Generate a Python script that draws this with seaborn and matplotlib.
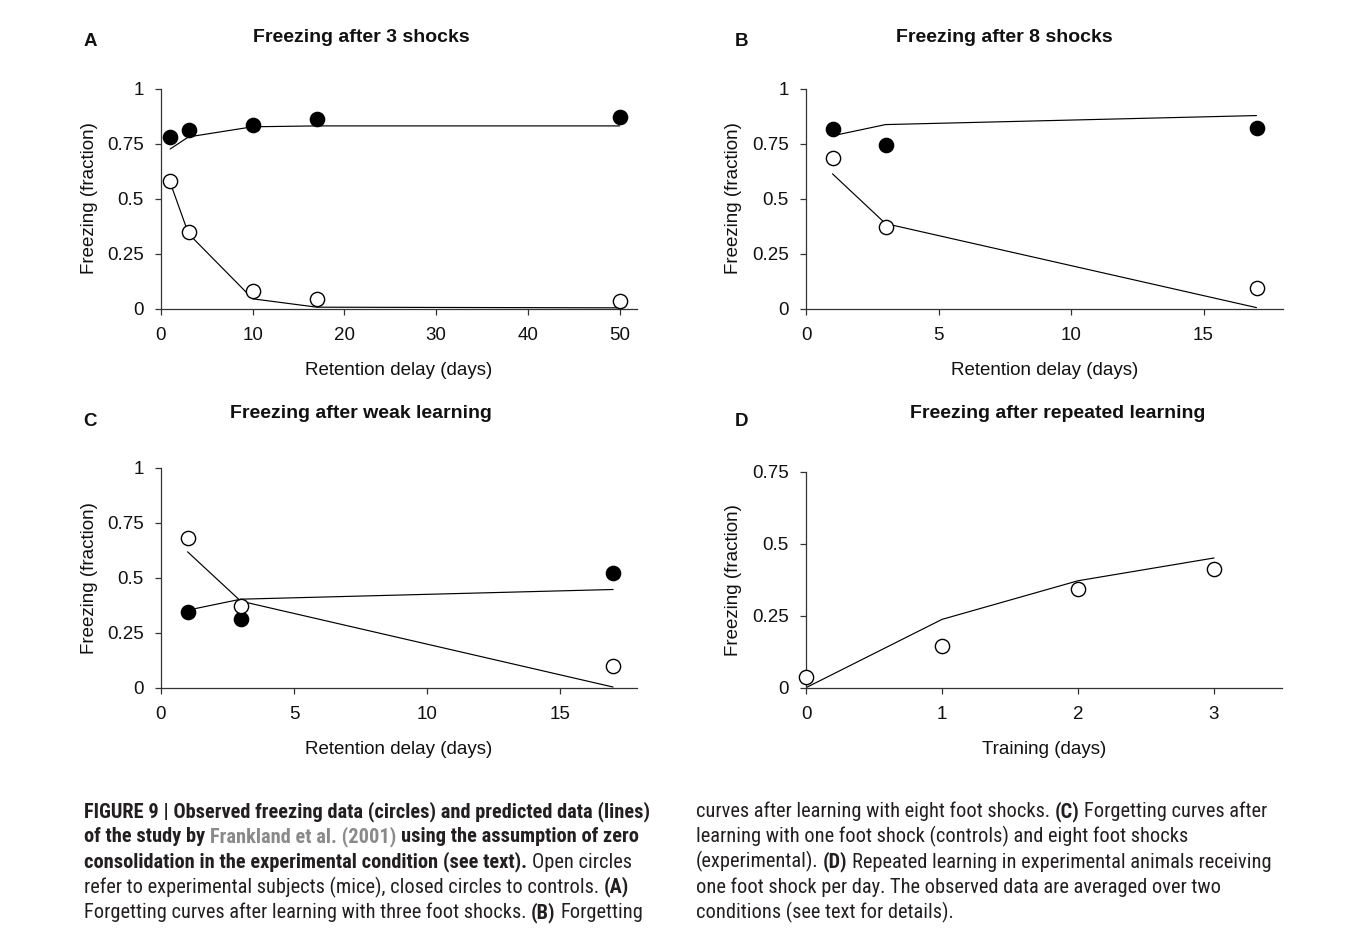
import matplotlib
matplotlib.use("Agg")
import matplotlib.pyplot as plt
import seaborn as sns
from matplotlib import font_manager
from matplotlib.transforms import IdentityTransform

# ---------------- data ----------------
A_days = [1, 3, 10, 17, 50]
A_ctrl_obs = [0.78, 0.81, 0.835, 0.86, 0.87]
A_ctrl_pred = [0.725, 0.78, 0.826, 0.83, 0.83]
A_exp_obs = [0.58, 0.347, 0.08, 0.044, 0.035]
A_exp_pred = [0.573, 0.34, 0.044, 0.006, 0.003]

B_days = [1, 3, 17]
B_ctrl_obs = [0.818, 0.745, 0.822]
B_ctrl_pred = [0.785, 0.836, 0.877]
B_exp_obs = [0.682, 0.371, 0.094]
B_exp_pred = [0.612, 0.386, 0.004]

C_days = [1, 3, 17]
C_ctrl_obs = [0.345, 0.312, 0.523]
C_ctrl_pred = [0.352, 0.402, 0.446]
C_exp_obs = [0.682, 0.372, 0.098]
C_exp_pred = [0.617, 0.393, 0.003]

D_days = [0, 1, 2, 3]
D_exp_obs = [0.036, 0.143, 0.344, 0.411]
D_exp_pred = [0.0, 0.237, 0.371, 0.45]

titles = ["Freezing after 3 shocks", "Freezing after 8 shocks",
          "Freezing after weak learning", "Freezing after repeated learning"]
letters = ["A", "B", "C", "D"]
ylabel = "Freezing (fraction)"
xlabels = ["Retention delay (days)", "Retention delay (days)",
           "Retention delay (days)", "Training (days)"]
A_xticks = [0, 10, 20, 30, 40, 50]
BC_xticks = [0, 5, 10, 15]
D_xticks = [0, 1, 2, 3]
yticks_full = [0, 0.25, 0.5, 0.75, 1]
yticklabels_full = ["0", "0.25", "0.5", "0.75", "1"]
yticks_D = [0, 0.25, 0.5, 0.75]
yticklabels_D = ["0", "0.25", "0.5", "0.75"]

caption_left = [
    [("FIGURE 9 | Observed freezing data (circles) and predicted data (lines)", "b")],
    [("of the study by ", "b"), ("Frankland et al. (2001)", "g"), (" using the assumption of zero", "b")],
    [("consolidation in the experimental condition (see text).", "b"), (" Open circles", "n")],
    [("refer to experimental subjects (mice), closed circles to controls. ", "n"), ("(A)", "b")],
    [("Forgetting curves after learning with three foot shocks. ", "n"), ("(B)", "b"), (" Forgetting", "n")],
]
caption_right = [
    [("curves after learning with eight foot shocks. ", "n"), ("(C)", "b"), (" Forgetting curves after", "n")],
    [("learning with one foot shock (controls) and eight foot shocks", "n")],
    [("(experimental). ", "n"), ("(D)", "b"), (" Repeated learning in experimental animals receiving", "n")],
    [("one foot shock per day. The observed data are averaged over two", "n")],
    [("conditions (see text for details).", "n")],
]

# ---------------- style ----------------
sns.set_theme(style="ticks")
plt.rcParams['font.family'] = ['Liberation Sans', 'DejaVu Sans']
plt.rcParams['axes.edgecolor'] = '#333333'
plt.rcParams['axes.linewidth'] = 0.9

W, H = 1354, 932
fig = plt.figure(figsize=(W / 100, H / 100), dpi=100)
fig.patch.set_facecolor('white')


def add_ax(l, t, r, b):
    return fig.add_axes([l / W, 1 - b / H, (r - l) / W, (b - t) / H])


def style_ax(ax, xlim, xticks, ylim, yticks, ytl, xlab, xlab_y, ylab_x):
    ax.set_xlim(*xlim)
    ax.set_ylim(*ylim)
    ax.set_xticks(xticks, labels=[str(v) for v in xticks])
    ax.set_yticks(yticks, labels=ytl)
    sns.despine(ax=ax)
    ax.tick_params(axis='both', direction='out', length=4.5, width=0.9,
                   color='#333333', labelsize=13.5, labelcolor='#111111')
    ax.tick_params(axis='x', pad=9)
    ax.tick_params(axis='y', pad=8)
    ax.set_xlabel(xlab, fontsize=13.5, color='#111111')
    ax.set_ylabel(ylabel, fontsize=13.5, color='#111111')
    ax.xaxis.set_label_coords(0.5, xlab_y)
    ax.xaxis.label.set_va('center')
    ax.yaxis.set_label_coords(ylab_x, 0.5)
    ax.yaxis.label.set_va('center')
    ax.set_facecolor('white')


def draw_series(ax, x, pred, obs, filled):
    sns.lineplot(x=x, y=pred, ax=ax, color='black', linewidth=0.85,
                 sort=False, legend=False, zorder=2)
    sns.scatterplot(x=x, y=obs, ax=ax, s=105,
                    color='black' if filled else 'white',
                    edgecolor='black', linewidth=1.0, zorder=3,
                    clip_on=False, legend=False)


axA = add_ax(161, 88.5, 637, 308.5)
draw_series(axA, A_days, A_ctrl_pred, A_ctrl_obs, True)
draw_series(axA, A_days, A_exp_pred, A_exp_obs, False)
style_ax(axA, (0, 51.9), A_xticks, (0, 1), yticks_full, yticklabels_full,
         xlabels[0], -0.28, -0.151)

axB = add_ax(806, 88.5, 1283, 308.5)
draw_series(axB, B_days, B_ctrl_pred, B_ctrl_obs, True)
draw_series(axB, B_days, B_exp_pred, B_exp_obs, False)
style_ax(axB, (0, 18.0), BC_xticks, (0, 1), yticks_full, yticklabels_full,
         xlabels[1], -0.28, -0.153)

axC = add_ax(161, 467.5, 637, 687.7)
draw_series(axC, C_days, C_ctrl_pred, C_ctrl_obs, True)
draw_series(axC, C_days, C_exp_pred, C_exp_obs, False)
style_ax(axC, (0, 17.9), BC_xticks, (0, 1), yticks_full, yticklabels_full,
         xlabels[2], -0.28, -0.151)

axD = add_ax(806, 471.5, 1282, 687.7)
draw_series(axD, D_days, D_exp_pred, D_exp_obs, False)
style_ax(axD, (0, 3.5), D_xticks, (0, 0.75), yticks_D, yticklabels_D,
         xlabels[3], -0.287, -0.153)

# titles and panel letters (pixel positions from the top-left)
title_pos = [(361, 37), (1004, 37), (361, 414), (1058, 413)]
letter_pos = [(90, 42), (741, 42), (90, 421), (741, 421)]
for t, (x, y) in zip(titles, title_pos):
    fig.text(x / W, 1 - y / H, t, ha='center', va='center', fontsize=14,
             fontweight='bold', color='#111111')
for t, (x, y) in zip(letters, letter_pos):
    fig.text(x / W, 1 - y / H, t, ha='center', va='center', fontsize=13.5,
             fontweight='bold', color='#111111')

# ---------------- caption ----------------
avail = {f.name for f in font_manager.fontManager.ttflist}
cap_family = 'Liberation Sans'
for cand in ['Roboto Condensed', 'Archivo Narrow', 'PT Sans Narrow',
             'Liberation Sans Narrow', 'Fira Sans Condensed',
             'IBM Plex Sans Condensed', 'Encode Sans Condensed',
             'Barlow Semi Condensed', 'Open Sans Condensed', 'Pragati Narrow']:
    if cand in avail:
        cap_family = cand
        break
BOLD = 'semibold'
renderer = fig.canvas.get_renderer()


def seg_width(txt, weight, size):
    t1 = fig.text(0, 0, "|" + txt + "|", fontsize=size, fontweight=weight, family=cap_family)
    t2 = fig.text(0, 0, "||", fontsize=size, fontweight=weight, family=cap_family)
    w = t1.get_window_extent(renderer).width - t2.get_window_extent(renderer).width
    t1.remove()
    t2.remove()
    return w


def line_width(segs, size):
    return sum(seg_width(s, BOLD if k in 'bg' else 'normal', size) for s, k in segs)


ref_n = line_width(caption_right[2], 10)
ref_b = line_width(caption_left[0], 10)
cap_size = 10 * ((589 / ref_n) * (550 / ref_b)) ** 0.5


def draw_caption(lines, x0, y0, spacing, size):
    for i, segs in enumerate(lines):
        x = x0
        yb = H - (y0 + i * spacing)
        for s, k in segs:
            weight = BOLD if k in 'bg' else 'normal'
            color = '#8a8a8a' if k == 'g' else '#231f20'
            w = seg_width(s, weight, size)
            lead = len(s) - len(s.lstrip(' '))
            st = s.strip(' ')
            xs = x + (seg_width(' ' * lead, weight, size) if lead else 0)
            fig.text(xs, yb, st, transform=IdentityTransform(), fontsize=size,
                     fontweight=weight, color=color, family=cap_family,
                     ha='left', va='baseline')
            x += w


draw_caption(caption_left, 84, 817, 25.3, cap_size)
draw_caption(caption_right, 696, 817, 25.3, cap_size)

fig.savefig("out.png", dpi=100, facecolor='white')
